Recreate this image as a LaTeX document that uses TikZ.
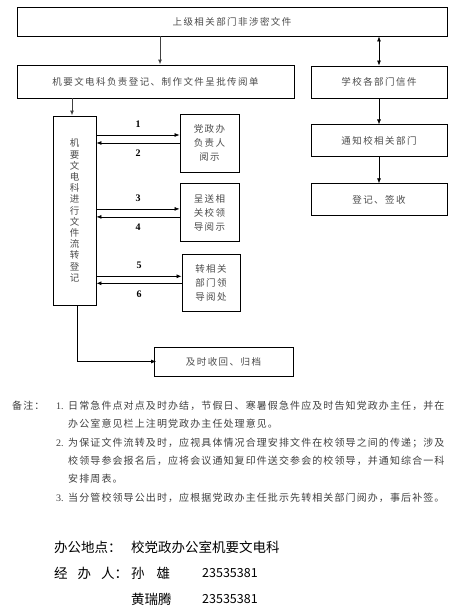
\documentclass[tikz,border=0pt]{standalone}
\usepackage{fontspec}
\setmainfont{Liberation Serif}
\newfontfamily\cjk[LetterSpace=15]{Noto Sans CJK SC}
\newfontfamily\cjknote[LetterSpace=11]{Noto Sans CJK SC}
\newfontfamily\cjkplain{Noto Sans CJK SC}
\usetikzlibrary{positioning,arrows.meta}

\tikzset{
  box/.style = {draw, line width=0.9pt, inner sep=0pt, align=center,
    text=black!70, font=\cjk\fontsize{9.5}{14}\selectfont},
  arr/.style = {-{Latex[length=5pt,width=4pt]}, line width=0.7pt},
  arrboth/.style = {{Latex[length=5pt,width=4pt]}-{Latex[length=5pt,width=4pt]}, line width=0.7pt},
  num/.style = {font=\bfseries\fontsize{10}{10}\selectfont, inner sep=1pt},
  note/.style = {anchor=west, inner sep=0pt, align=left, text=black!75,
    font=\cjknote\fontsize{10}{18}\selectfont},
  info/.style = {anchor=west, inner sep=0pt, font=\cjkplain\fontsize{13.5}{16}\selectfont},
}

\begin{document}
\begin{tikzpicture}[x=1pt, y=-1pt]
  \useasboundingbox[fill=white] (0,0) rectangle (459,613);

  \node[box, minimum width=430pt, minimum height=29pt] (top) at (232,21.5) {上级相关部门非涉密文件};
  \node[box, minimum width=277pt, minimum height=33pt] (mk) at (155.5,81.5) {机要文电科负责登记、制作文件呈批传阅单};
  \node[box, minimum width=136pt, minimum height=32pt] (xx) at (379,82) {学校各部门信件};
  \node[box, minimum width=136pt, minimum height=32pt, below=26pt of xx] (tz) {通知校相关部门};
  \node[box, minimum width=136pt, minimum height=32pt, below=26pt of tz] (dj) {登记、签收};

  \node[box, minimum width=43pt, minimum height=189pt, font=\cjk\fontsize{9.5}{11.2}\selectfont] (reg) at (74.5,210.5)
    {机\\要\\文\\电\\科\\进\\行\\文\\件\\流\\转\\登\\记};

  \node[box, minimum width=59pt, minimum height=58pt] (ld1) at (209.5,143) {党政办\\负责人\\阅示};
  \node[box, minimum width=59pt, minimum height=58pt, below=11pt of ld1] (ld2) {呈送相\\关校领\\导阅示};
  \node[box, minimum width=58pt, minimum height=57pt, below=12pt of ld2, xshift=1.5pt] (ld3) {转相关\\部门领\\导阅处};

  \node[box, minimum width=139pt, minimum height=29pt] (gd) at (223.5,361.5) {及时收回、归档};

  \draw[arr, line width=1pt, draw=black!75, transform canvas={xshift=4.5pt}] (top.south -| mk.north) -- (mk.north);
  \draw[arrboth] (top.south -| xx.north) -- (xx.north);
  \draw[arr] (xx) -- (tz);
  \draw[arr] (tz) -- (dj);
  \draw[arr, line width=1pt, draw=black!75, transform canvas={xshift=-2.5pt}] (mk.south -| reg.north) -- (reg.north);

  \draw[arr, transform canvas={yshift=8pt}] (ld1.west -| reg.east) -- (ld1.west) node[num, midway, above=6pt] {1};
  \draw[arr] (ld1.west) -- (ld1.west -| reg.east) node[num, midway, below=6pt] {2};
  \draw[arr, transform canvas={yshift=4pt}] (ld2.west -| reg.east) -- (ld2.west) node[num, midway, above=6pt] {3};
  \draw[arr, transform canvas={yshift=-4pt}] (ld2.west) -- (ld2.west -| reg.east) node[num, midway, below=6pt] {4};
  \draw[arr, transform canvas={yshift=7pt}] (ld3.west -| reg.east) -- (ld3.west) node[num, midway, above=6pt] {5};
  \draw[arr] (ld3.west) -- (ld3.west -| reg.east) node[num, midway, below=6pt] {6};

  \draw[arr, transform canvas={xshift=2.5pt}] (reg.south) |- (gd.west);

  \node[note] (bz) at (12,406) {备注：};
  \node[note] (n1) at (56,414.5) {\makebox[12pt][l]{\rmfamily 1.}日常急件点对点及时办结，节假日、寒暑假急件应及时告知党政办主任，并在\\
    \hspace*{12pt}办公室意见栏上注明党政办主任处理意见。};
  \node[note] (n2) at (56,461) {\makebox[12pt][l]{\rmfamily 2.}为保证文件流转及时，应视具体情况合理安排文件在校领导之间的传递；涉及\\
    \hspace*{12pt}校领导参会报名后，应将会议通知复印件送交参会的校领导，并通知综合一科\\
    \hspace*{12pt}安排周表。};
  \node[note] (n3) at (56,498) {\makebox[12pt][l]{\rmfamily 3.}当分管校领导公出时，应根据党政办主任批示先转相关部门阅办，事后补签。};

  \node[info] (ddk) at (54,547) {办公地点：};
  \node[info] (ddv) at (131,547) {校党政办公室机要文电科};
  \node[info] (jbk) at (54,573) {经\hspace{10pt}办\hspace{10pt}人：};
  \node[info] (jb1) at (131,573) {孙\hspace{12pt}雄};
  \node[info, font=\cjkplain\fontsize{12.5}{16}\selectfont] (tel1) at (202,573) {23535381};
  \node[info] (jb2) at (131,599) {黄瑞腾};
  \node[info, font=\cjkplain\fontsize{12.5}{16}\selectfont] (tel2) at (202,599) {23535381};
\end{tikzpicture}
\end{document}
